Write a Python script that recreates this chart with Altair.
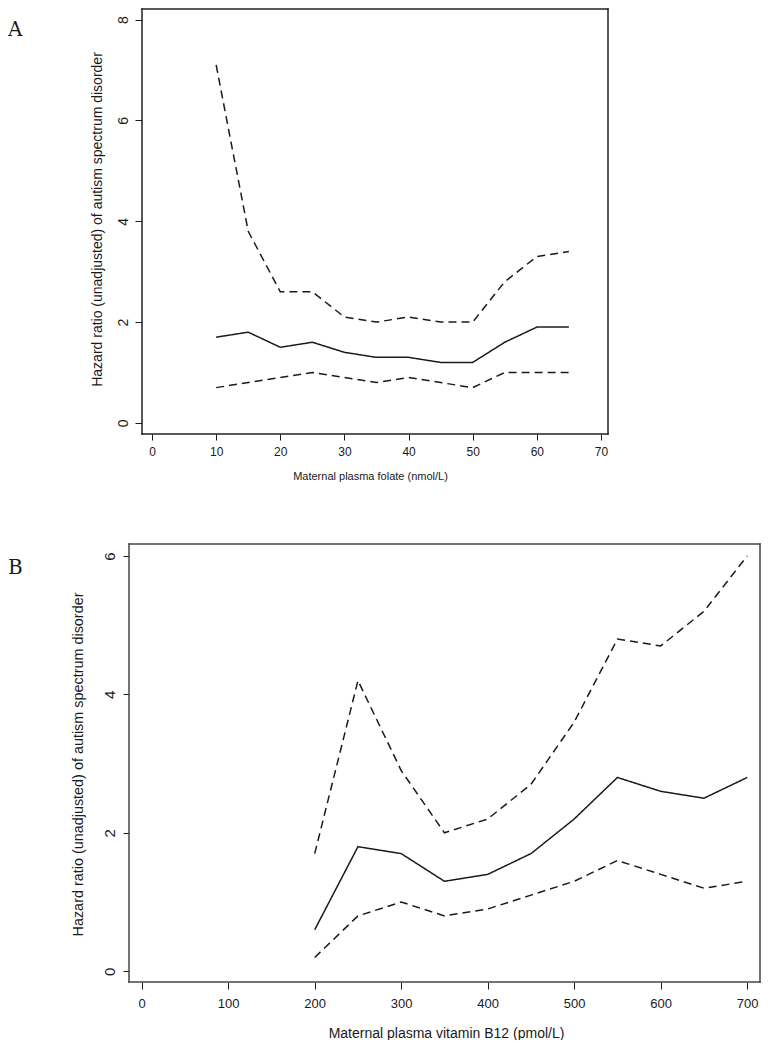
import altair as alt
import pandas as pd

# Panel A: folate
folate_x = [10, 15, 20, 25, 30, 35, 40, 45, 50, 55, 60, 65]
folate_hr = [1.7, 1.8, 1.5, 1.6, 1.4, 1.3, 1.3, 1.2, 1.2, 1.6, 1.9, 1.9]
folate_lo = [0.7, 0.8, 0.9, 1.0, 0.9, 0.8, 0.9, 0.8, 0.7, 1.0, 1.0, 1.0]
folate_hi = [7.1, 3.8, 2.6, 2.6, 2.1, 2.0, 2.1, 2.0, 2.0, 2.8, 3.3, 3.4]
folate_xlim = [-1.56, 71.1]      # plotting region of panel A (R-style box)
folate_ylim = [-0.22, 8.21]

# Panel B: vitamin B12
b12_x = [200, 250, 300, 350, 400, 450, 500, 550, 600, 650, 700]
b12_hr = [0.6, 1.8, 1.7, 1.3, 1.4, 1.7, 2.2, 2.8, 2.6, 2.5, 2.8]
b12_lo = [0.2, 0.8, 1.0, 0.8, 0.9, 1.1, 1.3, 1.6, 1.4, 1.2, 1.3]
b12_hi = [1.7, 4.2, 2.9, 2.0, 2.2, 2.7, 3.6, 4.8, 4.7, 5.2, 6.0]
b12_xlim = [-14.7, 714.8]
b12_ylim = [-0.155, 6.173]

y_title = "Hazard ratio (unadjusted) of autism spectrum disorder"
FONT = "Liberation Sans"
INK = "#1a1a1a"


def long_df(xs, hr, lo, hi):
    rows = []
    for name, vals in (("lower", lo), ("estimate", hr), ("upper", hi)):
        for x, v in zip(xs, vals):
            rows.append({"x": x, "y": v, "series": name})
    return pd.DataFrame(rows)


def box_df(xl, yl):
    return pd.DataFrame({
        "bx": [xl[0], xl[0], xl[0], xl[1]],
        "bx2": [xl[1], xl[1], xl[0], xl[1]],
        "by": [yl[0], yl[1], yl[0], yl[0]],
        "by2": [yl[0], yl[1], yl[1], yl[1]],
    })


def panel(df, label, xdom, ydom, box, xticks, yticks, w, h, xt, ytl, sz, label_pos,
          tpos, yoff, box_color):
    xs = alt.Scale(domain=xdom, nice=False, zero=False)
    ys = alt.Scale(domain=ydom, nice=False, zero=False)
    lines = alt.Chart(df).mark_line(color=INK, strokeWidth=1.5).encode(
        x=alt.X(
            "x:Q", scale=xs,
            axis=alt.Axis(
                values=xticks, title=xt, domain=False, grid=False, format="d",
                tickSize=sz["xtick"], tickColor=INK, labelPadding=sz["xpad"],
                labelFont=FONT, labelFontSize=sz["xlab"], labelColor=INK,
                titleFont=FONT, titleFontSize=sz["xtitle"], titleFontWeight="normal",
                titleColor=INK, titleX=tpos["xx"], titleY=tpos["xy"],
                titleBaseline="middle", labelFlush=False,
            ),
        ),
        y=alt.Y(
            "y:Q", scale=ys,
            axis=alt.Axis(
                values=yticks, title=ytl, domain=False, grid=False, offset=yoff,
                format="d",
                tickSize=sz["ytick"], tickColor=INK, labelPadding=sz["ypad"],
                labelAngle=-90, labelAlign="center", labelBaseline="bottom",
                labelFont=FONT, labelFontSize=sz["ylab"], labelColor=INK,
                titleFont=FONT, titleFontSize=sz["ytitle"], titleFontWeight="normal",
                titleColor=INK, titleAngle=-90, titleX=tpos["yx"], titleY=tpos["yy"],
                titleBaseline="middle", titleAlign="center", labelFlush=False,
            ),
        ),
        detail="series:N",
        strokeDash=alt.StrokeDash(
            "series:N",
            scale=alt.Scale(domain=["lower", "estimate", "upper"],
                            range=[[8, 5], [1, 0], [8, 5]]),
            legend=None,
        ),
    )
    frame = alt.Chart(box_df(*box)).mark_rule(
        color=box_color, strokeWidth=1.5, clip=False, strokeCap="square"
    ).encode(
        x=alt.X("bx:Q", scale=xs), x2="bx2:Q",
        y=alt.Y("by:Q", scale=ys), y2="by2:Q",
    )
    lab = alt.Chart(pd.DataFrame({"t": [label]})).mark_text(
        font="DejaVu Serif", fontSize=20, align="left", baseline="alphabetic",
        color=INK,
    ).encode(text="t:N", x=alt.value(label_pos[0]), y=alt.value(label_pos[1]))
    return alt.layer(lines, frame, lab).properties(
        width=w, height=h,
        view=alt.ViewBackground(stroke=None),
    )


# Both plot areas start at the same page x (129); panel A's box and y axis are
# moved 13 px inward.
chart_a = panel(
    long_df(folate_x, folate_hr, folate_lo, folate_hi), "A",
    [-3.59, folate_xlim[1]], folate_ylim, (folate_xlim, folate_ylim),
    [0, 10, 20, 30, 40, 50, 60, 70], [0, 2, 4, 6, 8],
    479, 425, "Maternal plasma folate (nmol/L)", y_title,
    dict(xtick=6, xpad=6, xlab=12, xtitle=11, ytick=7, ypad=5, ylab=14, ytitle=14),
    (-121, 27),
    dict(xx=241, xy=42, yx=-45, yy=210),
    -13, "#222",
)

chart_b = panel(
    long_df(b12_x, b12_hr, b12_lo, b12_hi), "B",
    b12_xlim, b12_ylim, (b12_xlim, b12_ylim),
    [0, 100, 200, 300, 400, 500, 600, 700], [0, 2, 4, 6],
    631, 438, "Maternal plasma vitamin B12 (pmol/L)", y_title,
    dict(xtick=7, xpad=8, xlab=13, xtitle=14, ytick=6, ypad=6, ylab=15, ytitle=14.4),
    (-121, 30),
    dict(xx=317, xy=51, yx=-51, yy=220),
    0, "#444",
)

chart = alt.vconcat(chart_a, chart_b, spacing=61).properties(
    padding={"left": 0, "top": -1, "right": 0, "bottom": 0},
    background="white",
)

chart.save("out.html", embed_options={"renderer": "svg", "actions": False})
